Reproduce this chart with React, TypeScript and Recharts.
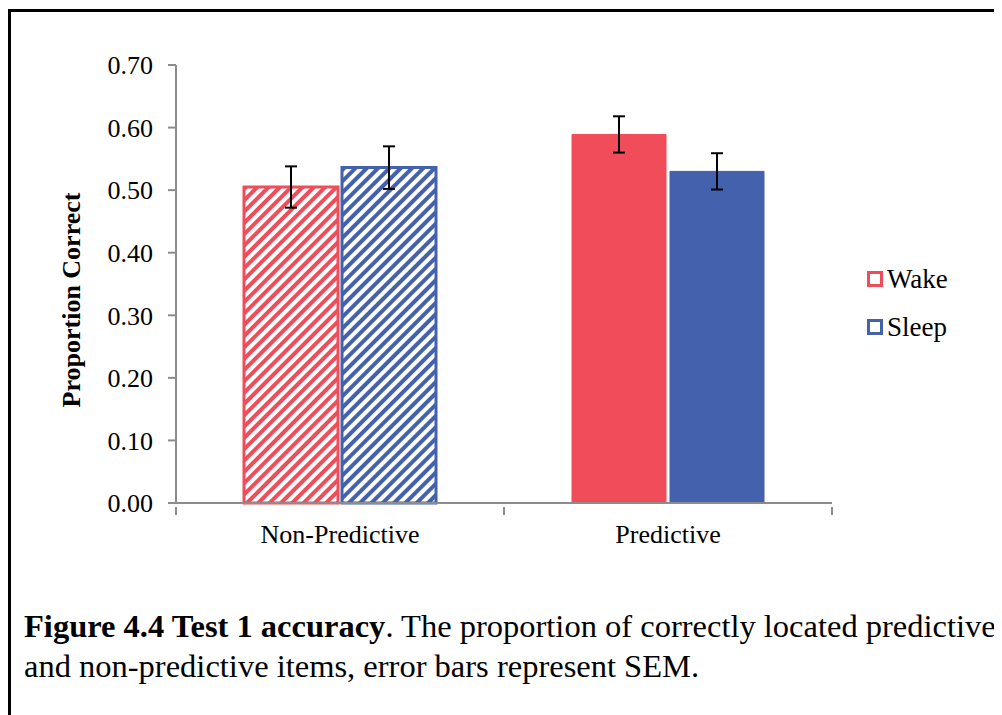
import React from 'react';
import {
  BarChart,
  Bar,
  XAxis,
  YAxis,
  ErrorBar,
  Cell,
  Legend,
  Label,
} from 'recharts';

// values
const categories = ['Non-Predictive', 'Predictive'];
const wakeMeans = [0.505, 0.589];
const wakeSem = [0.033, 0.029];
const sleepMeans = [0.536, 0.530];
const sleepSem = [0.034, 0.029];
const yTicks = [0, 0.1, 0.2, 0.3, 0.4, 0.5, 0.6, 0.7];
const hatched = [true, false];

const WAKE = '#f04c59';
const SLEEP = '#4461ad';
const AXIS = '#8c8c8c';
const FONT = '"Liberation Serif", "Times New Roman", serif';

const data = categories.map((name, i) => ({
  name,
  wake: wakeMeans[i],
  wakeErr: wakeSem[i],
  sleep: sleepMeans[i],
  sleepErr: sleepSem[i],
}));

const legendItems = [
  { label: 'Wake', color: WAKE },
  { label: 'Sleep', color: SLEEP },
];

function LegendBox() {
  return (
    <div style={{ fontFamily: FONT, fontSize: 27 }}>
      {legendItems.map((it) => (
        <div key={it.label} style={{ display: 'flex', alignItems: 'center', height: 48 }}>
          <span
            style={{
              width: 10,
              height: 10,
              border: `3px solid ${it.color}`,
              display: 'inline-block',
              marginRight: 4,
            }}
          />
          <span>{it.label}</span>
        </div>
      ))}
    </div>
  );
}

const YTitle = ({ viewBox }: any) => {
  const x = viewBox.x + 69;
  const y = 288;
  return (
    <text
      x={x}
      y={y}
      transform={`rotate(-90, ${x}, ${y})`}
      textAnchor="middle"
      fontFamily={FONT}
      fontSize={26}
      fontWeight="bold"
      fill="#000"
    >
      Proportion Correct
    </text>
  );
};

// category label plus Excel-style tick marks on the category edges
const CategoryTick = ({ x, y, payload }: any) => {
  const half = payload.offset || 0;
  return (
    <g>
      <line x1={x - half} x2={x - half} y1={y - 12} y2={y - 4} stroke={AXIS} strokeWidth={2} />
      <line x1={x + half} x2={x + half} y1={y - 12} y2={y - 4} stroke={AXIS} strokeWidth={2} />
      <text x={x} y={y} dy={24} textAnchor="middle" fontFamily={FONT} fontSize={26} fill="#000">
        {payload.value}
      </text>
    </g>
  );
};

export default function App() {
  return (
    <div
      style={{
        position: 'relative',
        width: 994,
        height: 706,
        marginTop: 1,
        borderTop: '3px solid #000',
        borderLeft: '3px solid #000',
        boxSizing: 'border-box',
        fontFamily: FONT,
      }}
    >
      <div style={{ position: 'absolute', left: 0, top: 0 }}>
        <BarChart
          width={960}
          height={560}
          data={data}
          margin={{ top: 53, right: 139, left: 0, bottom: 29 }}
          barSize={94}
          barGap={4}
        >
          <defs>
            <pattern id="hatchWake" width="8" height="8" patternUnits="userSpaceOnUse" patternTransform="rotate(45)">
              <rect width="8" height="8" fill="#fff" />
              <rect width="4" height="8" fill={WAKE} />
            </pattern>
            <pattern id="hatchSleep" width="8" height="8" patternUnits="userSpaceOnUse" patternTransform="rotate(45)">
              <rect width="8" height="8" fill="#fff" />
              <rect width="4" height="8" fill={SLEEP} />
            </pattern>
          </defs>
          <XAxis
            dataKey="name"
            height={40}
            axisLine={{ stroke: AXIS, strokeWidth: 2 }}
            tickLine={false}
            tick={<CategoryTick />}
            tickMargin={10}
          />
          <YAxis
            width={165}
            domain={[0, 0.7]}
            ticks={yTicks}
            tickFormatter={(v: number) => v.toFixed(2)}
            axisLine={{ stroke: AXIS, strokeWidth: 2 }}
            tickLine={{ stroke: AXIS, strokeWidth: 2 }}
            tickSize={8}
            tickMargin={15}
            tick={{ fontSize: 26, fill: '#000', fontFamily: FONT }}
            interval={0}
          >
            <Label content={<YTitle />} />
          </YAxis>
          <Legend
            layout="vertical"
            align="center"
            verticalAlign="middle"
            content={<LegendBox />}
            wrapperStyle={{ left: 856, top: 243, width: 110 }}
          />
          <Bar dataKey="wake" name="Wake" isAnimationActive={false}>
            {data.map((d, i) => (
              <Cell
                key={`w-${i}`}
                fill={hatched[i] ? 'url(#hatchWake)' : WAKE}
                stroke={WAKE}
                strokeWidth={hatched[i] ? 3 : 1}
              />
            ))}
            <ErrorBar dataKey="wakeErr" width={6} stroke="#000" strokeWidth={2} />
          </Bar>
          <Bar dataKey="sleep" name="Sleep" isAnimationActive={false}>
            {data.map((d, i) => (
              <Cell
                key={`s-${i}`}
                fill={hatched[i] ? 'url(#hatchSleep)' : SLEEP}
                stroke={SLEEP}
                strokeWidth={hatched[i] ? 3 : 1}
              />
            ))}
            <ErrorBar dataKey="sleepErr" width={6} stroke="#000" strokeWidth={2} />
          </Bar>
        </BarChart>
      </div>
      <div
        style={{
          position: 'absolute',
          left: 13,
          top: 594,
          fontSize: 32.5,
          lineHeight: '40px',
          color: '#000',
          whiteSpace: 'nowrap',
        }}
      >
        <b>Figure 4.4 Test 1 accuracy</b>. The proportion of correctly located predictive
        <br />
        and non-predictive items, error bars represent SEM.
      </div>
    </div>
  );
}
